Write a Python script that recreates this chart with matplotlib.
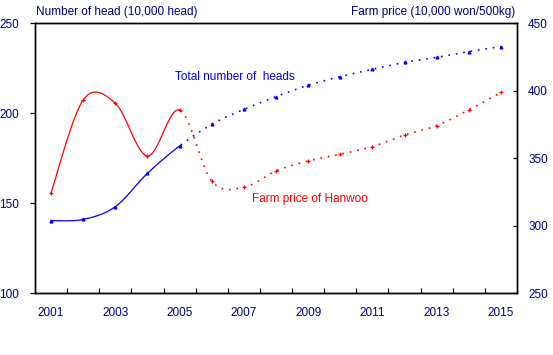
import numpy as np
import matplotlib
matplotlib.use("Agg")
import matplotlib.pyplot as plt

plt.rcParams['font.family'] = ['Liberation Sans', 'DejaVu Sans']

years = list(range(2001, 2016))
heads = [140.2, 140.9, 148.0, 166.5, 181.7, 193.7, 202.0, 209.1,
         215.4, 220.2, 224.3, 228.1, 230.9, 234.1, 236.9]
price = [324.3, 393.0, 390.5, 351.5, 385.6, 333.0, 328.3, 340.4,
         347.8, 352.8, 358.4, 367.0, 374.0, 385.6, 398.6]
split_year = 2005  # solid up to here, dotted after
year_labels = [str(y) for y in years[::2]]

NAVY = "#000080"


def smooth(xs, ys, n=30):
    # Excel-like smoothed line (Catmull-Rom as cubic Bezier)
    xs = np.asarray(xs, float)
    ys = np.asarray(ys, float)
    px = np.concatenate([[xs[0]], xs, [xs[-1]]])
    py = np.concatenate([[ys[0]], ys, [ys[-1]]])
    out_x, out_y = [], []
    t = np.linspace(0, 1, n)
    for i in range(1, len(px) - 2):
        x0, x1 = px[i], px[i + 1]
        y0, y1 = py[i], py[i + 1]
        bx1 = x0 + (px[i + 1] - px[i - 1]) / 6
        by1 = y0 + (py[i + 1] - py[i - 1]) / 6
        bx2 = x1 - (px[i + 2] - px[i]) / 6
        by2 = y1 - (py[i + 2] - py[i]) / 6
        a, b, c, d = (1 - t) ** 3, 3 * (1 - t) ** 2 * t, 3 * (1 - t) * t ** 2, t ** 3
        out_x.append(a * x0 + b * bx1 + c * bx2 + d * x1)
        out_y.append(a * y0 + b * by1 + c * by2 + d * y1)
    return np.concatenate(out_x), np.concatenate(out_y)


fig = plt.figure(figsize=(5.53, 3.55), dpi=100)
ax = fig.add_axes([0.0633, 0.1746, 0.8716, 0.7606])
ax2 = ax.twinx()

# number of heads (left axis)
sx, sy = smooth(years, heads)
m = sx <= split_year
ax.plot(sx[m], sy[m], color="blue", lw=0.9)
ax.plot(sx[~m], sy[~m], color="blue", lw=1.2, ls=(0, (1, 3.5)))
ax.plot(years, heads, ls="none", marker="^", ms=2, color="blue")

# farm price (right axis)
sx, sy = smooth(years, price)
m = sx <= split_year
ax2.plot(sx[m], sy[m], color="red", lw=0.9)
ax2.plot(sx[~m], sy[~m], color="red", lw=1.2, ls=(0, (1, 3.5)))
ax2.plot(years, price, ls="none", marker="+", ms=2.5, mew=0.9, color="red")

ax.set_xlim(2000.5, 2015.5)
ax.set_ylim(100, 250)
ax2.set_ylim(250, 450)

ax.set_xticks(years[::2])
ax.set_xticklabels(year_labels)
ax.set_xticks(np.arange(2001.5, 2015, 1), minor=True)
ax.tick_params(axis="x", which="major", length=0, pad=10, labelsize=8.5, labelcolor=NAVY)
ax.tick_params(axis="x", which="minor", direction="in", length=3.5, width=0.9)

ax.set_yticks([100, 150, 200, 250])
ax.tick_params(axis="y", direction="out", length=3.5, width=0.9, labelsize=8.5, labelcolor=NAVY, pad=8)
ax2.set_yticks([250, 300, 350, 400, 450])
ax2.tick_params(axis="y", direction="in", length=3, width=0.9, labelsize=8.5, labelcolor=NAVY, pad=8)

for a in (ax, ax2):
    for s in a.spines.values():
        s.set_linewidth(1.0)
        s.set_color("black")

fig.text(0.065, 0.965, "Number of head (10,000 head)", color=NAVY, fontsize=8.5, va="center", ha="left")
fig.text(0.932, 0.965, "Farm price (10,000 won/500kg)", color=NAVY, fontsize=8.5, va="center", ha="right")
fig.text(0.316, 0.783, "Total number of  heads", color="blue", fontsize=8.5, va="center", ha="left")
fig.text(0.456, 0.44, "Farm price of Hanwoo", color="red", fontsize=8.5, va="center", ha="left")

fig.savefig("out.png", dpi=100)
